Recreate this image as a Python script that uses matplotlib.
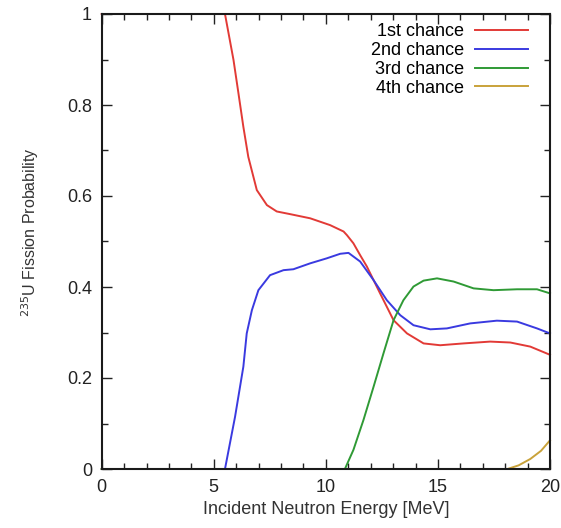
import matplotlib
matplotlib.use('Agg')
import matplotlib.pyplot as plt
from matplotlib.ticker import MultipleLocator, FuncFormatter

plt.rcParams['font.family'] = ['Liberation Sans', 'DejaVu Sans']

# values
e_1st = [0, 5.5, 5.88, 6.10, 6.32, 6.54, 6.92, 7.37, 7.81, 8.42, 9.30, 10.19, 10.79,
         10.94, 11.23, 11.53, 11.83, 12.42, 13.02, 13.62, 14.36, 15.10, 16.14, 17.33,
         18.23, 19.12, 20.0]
p_1st = [1, 1, 0.899, 0.826, 0.752, 0.686, 0.613, 0.580, 0.566, 0.560, 0.551, 0.536,
         0.522, 0.514, 0.496, 0.470, 0.445, 0.386, 0.327, 0.298, 0.276, 0.272, 0.276,
         0.280, 0.278, 0.269, 0.251]

e_2nd = [0, 5.50, 5.95, 6.32, 6.47, 6.70, 6.99, 7.51, 8.11, 8.55, 9.30, 10.04, 10.64,
         11.01, 11.53, 12.13, 12.72, 13.32, 13.91, 14.66, 15.40, 16.44, 17.63, 18.53,
         19.42, 20.0]
p_2nd = [0, 0, 0.115, 0.225, 0.298, 0.349, 0.393, 0.426, 0.437, 0.439, 0.452, 0.463,
         0.473, 0.475, 0.456, 0.415, 0.371, 0.338, 0.316, 0.307, 0.309, 0.320, 0.326,
         0.324, 0.309, 0.298]

e_3rd = [0, 10.85, 11.23, 11.68, 12.13, 12.57, 13.02, 13.46, 13.91, 14.36, 14.96,
         15.70, 16.59, 17.48, 18.53, 19.42, 20.0]
p_3rd = [0, 0, 0.042, 0.108, 0.181, 0.254, 0.327, 0.371, 0.401, 0.414, 0.419, 0.412,
         0.397, 0.393, 0.395, 0.395, 0.386]

e_4th = [0, 18.1, 18.6, 19.12, 19.6, 20.0]
p_4th = [0, 0, 0.008, 0.022, 0.040, 0.063]

labels = ['1st chance', '2nd chance', '3rd chance', '4th chance']
colors = ['#e23a36', '#3a3ae0', '#2f9a35', '#c9a23a']

W, H = 561, 528
fig = plt.figure(figsize=(W / 100, H / 100), dpi=100)
# axes box in pixels: left 101.7, right 550, top 14, bottom 469
ax = fig.add_axes([101.7 / W, (H - 469) / H, (550 - 101.7) / W, (469 - 14) / H])

series = [(e_1st, p_1st), (e_2nd, p_2nd), (e_3rd, p_3rd), (e_4th, p_4th)]
for (e, p), lab, c in zip(series, labels, colors):
    ax.plot(e, p, '-', color=c, linewidth=1.4, label=lab, clip_on=False,
            solid_joinstyle='round')

ax.set_xlim(0, 20)
ax.set_ylim(0, 1)
ax.xaxis.set_major_locator(MultipleLocator(5))
ax.xaxis.set_minor_locator(MultipleLocator(1))
ax.yaxis.set_major_locator(MultipleLocator(0.2))
ax.yaxis.set_minor_locator(MultipleLocator(0.1))
ax.yaxis.set_major_formatter(FuncFormatter(lambda v, pos: f'{v:g}'))
ax.tick_params(which='both', direction='in', top=True, right=True, labelsize=13, colors='#222222')
ax.tick_params(which='major', length=7, width=1.0, pad=7)
ax.tick_params(which='minor', length=4, width=1.0)
for s in ax.spines.values():
    s.set_linewidth(1.5)
    s.set_color('#1a1a1a')

ax.set_xlabel('Incident Neutron Energy [MeV]', fontsize=13, color='#333333', labelpad=4)
ax.set_ylabel('$^{235}$U Fission Probability', fontsize=11.5, color='#333333')
ax.yaxis.set_label_coords(-0.135, 0.52)

ax.legend(loc='upper right', frameon=False, markerfirst=False, fontsize=13,
          handlelength=2.9, handletextpad=0.65, labelspacing=0.1,
          borderaxespad=0, bbox_to_anchor=(535 / W, (H - 16) / H),
          bbox_transform=fig.transFigure)

fig.savefig('out.png', dpi=100)
